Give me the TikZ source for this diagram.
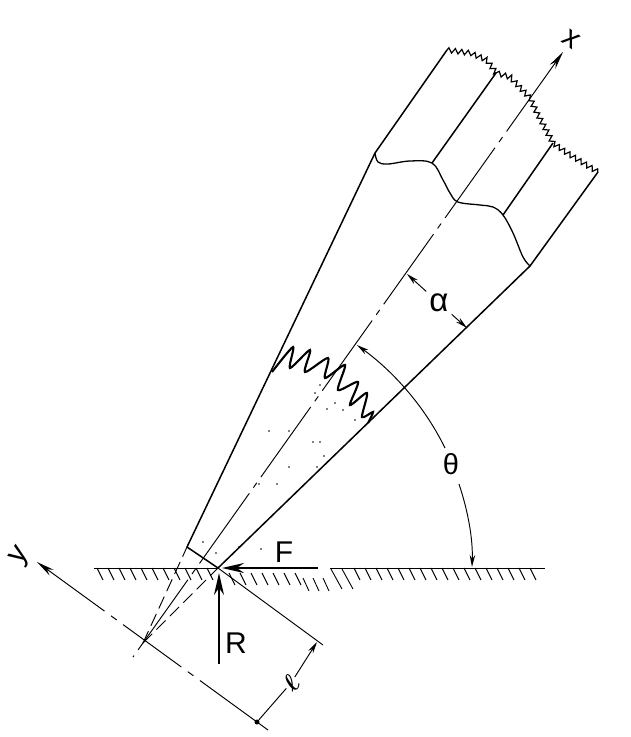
\documentclass[tikz,border=0pt]{standalone}
\usepackage{fontspec}
\setmainfont{Liberation Sans}
\usetikzlibrary{arrows.meta,decorations.pathmorphing}

\begin{document}
\begin{tikzpicture}[x=1pt, y=-1pt,
    edge/.style={line width=1.5pt, black},
    thinline/.style={line width=0.95pt, black},
    cutline/.style={line width=1.3pt, black},
    wavy/.style={line width=2.1pt, black},
    torn/.style={line width=1.2pt, black, decorate, decoration={zigzag, amplitude=2.5pt, segment length=6.5pt}},
    hatchline/.style={line width=0.9pt, black},
    axisline/.style={thinline, >={Stealth[length=18pt,width=7pt]}},
    dimline/.style={thinline, >={Stealth[length=12pt,width=5.5pt]}},
    forcearrow/.style={line width=2.4pt, black, >={Stealth[length=22pt,width=10pt]}},
    letter/.style={font=\fontsize{30}{30}\selectfont, inner sep=1pt},
    greek/.style={font=\fontsize{33}{33}\selectfont, inner sep=3pt}]

    \useasboundingbox (0,0) rectangle (631,737);

    \coordinate (tip) at (218,568);
    \coordinate (corner) at (187,547);
    \coordinate (leftA) at (375,153);
    \coordinate (leftB) at (447,50);
    \coordinate (rightA) at (530,266);
    \coordinate (rightB) at (598,172);
    \coordinate (midLA) at (432,163);
    \coordinate (midLB) at (496,73);
    \coordinate (midRA) at (503,215);
    \coordinate (midRB) at (553,143);
    \coordinate (vertex) at (143,643);
    \coordinate (xtail) at (133,657);
    \coordinate (xtip) at (563,52);
    \coordinate (ytip) at (37,562);
    \coordinate (yend) at (268,730);
    \coordinate (lfoot) at (257,722);
    \coordinate (perpend) at (323,645);
    \coordinate (ltop) at (317,642);
    \coordinate (alphaL) at (407,274);
    \coordinate (alphaR) at (467,328);
    \coordinate (thetaA) at (357,345);
    \coordinate (thetaB) at (445,448);
    \coordinate (thetaC) at (459,484);
    \coordinate (thetaD) at (472,567);
    \coordinate (groundL) at (94,568);
    \coordinate (groundM) at (330,568);
    \coordinate (groundR) at (545,568);
    \coordinate (Fstart) at (318,568);
    \coordinate (Fend) at (222,568);
    \coordinate (Rstart) at (219,664);
    \coordinate (Rend) at (219,573);

    \node[letter, rotate=-35] (xlabel) at (571,39) {x};
    \node[letter, rotate=55] (ylabel) at (21,557) {y};
    \node[letter] (Flabel) at (284,552) {F};
    \node[letter] (Rlabel) at (236,643) {R};
    \node[greek] (alpha) at (439,303) {α};
    \node[greek, font=\fontsize{29}{29}\selectfont] (theta) at (451,464) {θ};
    \node[rotate=50, inner sep=1pt, font=\fontsize{36}{36}\selectfont\boldmath] (ell) at (291,683) {$\ell$};
    \node[circle, fill=black, inner sep=0pt, minimum size=5pt] (lfootdot) at (lfoot) {};

    % tool outline
    \draw[edge] (leftB) -- (leftA) -- (corner) -- (tip) -- (rightA) -- (rightB);
    \draw[edge] (midLA) -- (midLB);
    \draw[edge] (midRA) -- (midRB);

    % torn end, worn lines
    \draw[torn] plot coordinates {(447,50) (470,53) (487,60) (496,73) (510,77) (530,98) (537,113) (553,143) (567,153) (598,172)};
    \draw[cutline] plot[smooth, tension=0.6] coordinates {(375,153) (378,162) (388,164) (410,161) (432,163) (443,180) (450,193) (458,202) (480,205) (493,207) (503,215) (513,233) (523,257) (530,266)};
    \draw[wavy] plot[smooth, tension=0.45] coordinates {(272,372) (293,347) (290,368) (310,350) (305,372) (328,358) (325,378) (345,365) (338,390) (358,382) (350,405) (367,393) (362,417) (373,412) (368,423)};

    % stipple
    \foreach \px/\py in {269/431, 313/442, 320/442, 327/409, 335/403, 343/410, 355/420, 315/393, 320/385, 289/431, 277/484, 259/484, 289/467, 317/467, 324/456, 203/542, 216/553, 239/547, 261/549} {
        \fill (\px,\py) circle (0.9pt);
    }

    % axes and construction lines
    \draw[axisline, <-, dash pattern=on 86pt off 7pt on 6pt off 7pt] (xtip) -- (xtail);
    \draw[axisline, <-, dash pattern=on 72pt off 8pt on 7pt off 8pt on 72pt off 8pt on 7pt off 8pt on 200pt] (ytip) -- (yend);
    \draw[thinline, dash pattern=on 13pt off 6pt] (vertex) -- (corner);
    \draw[thinline, dash pattern=on 13pt off 6pt] (vertex) -- (tip);
    \draw[thinline] (tip) -- (perpend);

    % ground
    \draw[thinline] (groundL) -- (tip);
    \draw[thinline] (groundM) -- (groundR);
    \foreach \hx in {97,108,...,207} {
        \draw[hatchline] (\hx,568) -- ++(6,12);
    }
    \foreach \hx in {229,240,...,295} {
        \draw[hatchline] (\hx,573) -- ++(6,12);
    }
    \foreach \hx in {303,313,323} {
        \draw[hatchline] (\hx,578) -- ++(6,13);
    }
    \foreach \hx in {331,342} {
        \draw[hatchline] (\hx,569) -- ++(11,20);
    }
    \foreach \hx in {354,365,...,530} {
        \draw[hatchline] (\hx,568) -- ++(6,12);
    }

    % forces
    \draw[forcearrow, ->] (Fstart) -- (Fend);
    \draw[forcearrow, ->] (Rstart) -- (Rend);

    % dimensions
    \draw[dimline, ->] (alpha) -- (alphaL);
    \draw[dimline, ->] (alpha) -- (alphaR);
    \draw[dimline, ->] (ell) -- (ltop);
    \draw[dimline] (ell) -- (lfootdot);
    \draw[dimline, <-] (thetaA) .. controls (394,372) and (425,407) .. (thetaB);
    \draw[dimline, ->] (thetaC) .. controls (468,511) and (473,539) .. (thetaD);
\end{tikzpicture}
\end{document}
